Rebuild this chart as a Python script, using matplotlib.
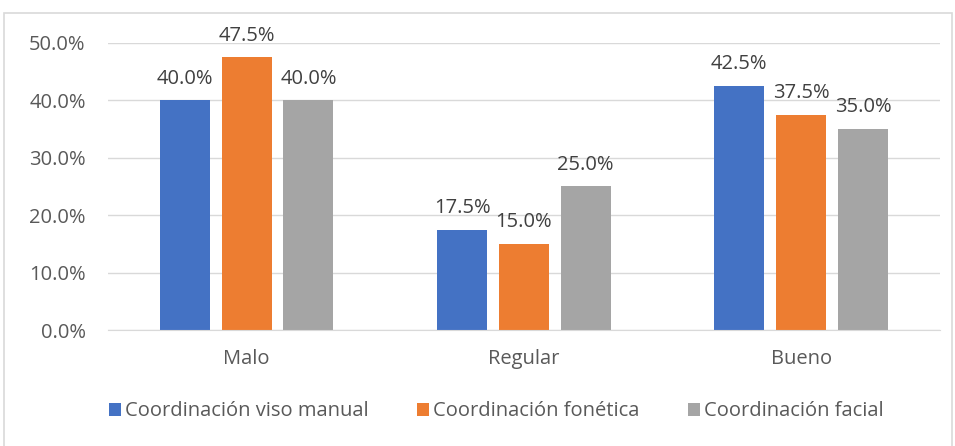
import numpy as np
import matplotlib.pyplot as plt
from matplotlib.patches import Rectangle

categories = ['Malo', 'Regular', 'Bueno']
series_names = ['Coordinación viso manual', 'Coordinación fonética', 'Coordinación facial']
viso_manual = [40.0, 17.5, 42.5]
fonetica = [47.5, 15.0, 37.5]
facial = [40.0, 25.0, 35.0]
colors = ['#4472C4', '#ED7D31', '#A5A5A5']

plt.rcParams['font.family'] = ['Open Sans', 'DejaVu Sans']
FS = 14.5

fig = plt.figure(figsize=(9.55, 4.46), dpi=100)
ax = fig.add_axes([0.113, 0.26, 0.871, 0.644])

# outer chart border
fig.patches.append(Rectangle((4 / 955, -0.01), 948 / 955, 1 - 13 / 446 + 0.01,
                             transform=fig.transFigure, fill=False,
                             edgecolor='#D9D9D9', linewidth=1.2))

x = np.arange(len(categories))
w = 0.18
step = 0.223
data = [viso_manual, fonetica, facial]
for i, vals in enumerate(data):
    pos = x + (i - 1) * step
    bars = ax.bar(pos, vals, width=w, color=colors[i], label=series_names[i], zorder=2)
    for b, v in zip(bars, vals):
        ax.annotate('{:.1f}%'.format(v), (b.get_x() + b.get_width() / 2, v),
                    xytext=(0, 12), textcoords='offset points',
                    ha='center', va='baseline', fontsize=FS, color='#404040')

ax.set_xlim(-0.5, 2.5)
ax.set_ylim(0, 50)
ax.set_yticks(np.arange(0, 51, 10))
ax.set_yticklabels(['{:.1f}%'.format(t) for t in np.arange(0, 51, 10)])
ax.set_xticks(x)
ax.set_xticklabels(categories)
ax.yaxis.grid(True, color='#D9D9D9', linewidth=1, zorder=0)
ax.set_axisbelow(True)
for s in ['top', 'right', 'left']:
    ax.spines[s].set_visible(False)
ax.spines['bottom'].set_color('#D9D9D9')
ax.tick_params(axis='both', length=0, labelsize=FS, colors='#595959')
ax.tick_params(axis='y', pad=16)
ax.tick_params(axis='x', pad=14)

fig.legend(loc='center', bbox_to_anchor=(0.52, 0.078), ncol=3, frameon=False,
           fontsize=FS, handlelength=0.6, handleheight=0.6, handletextpad=0.2,
           columnspacing=2.4, labelcolor='#595959')

fig.savefig('out.png', dpi=100)
